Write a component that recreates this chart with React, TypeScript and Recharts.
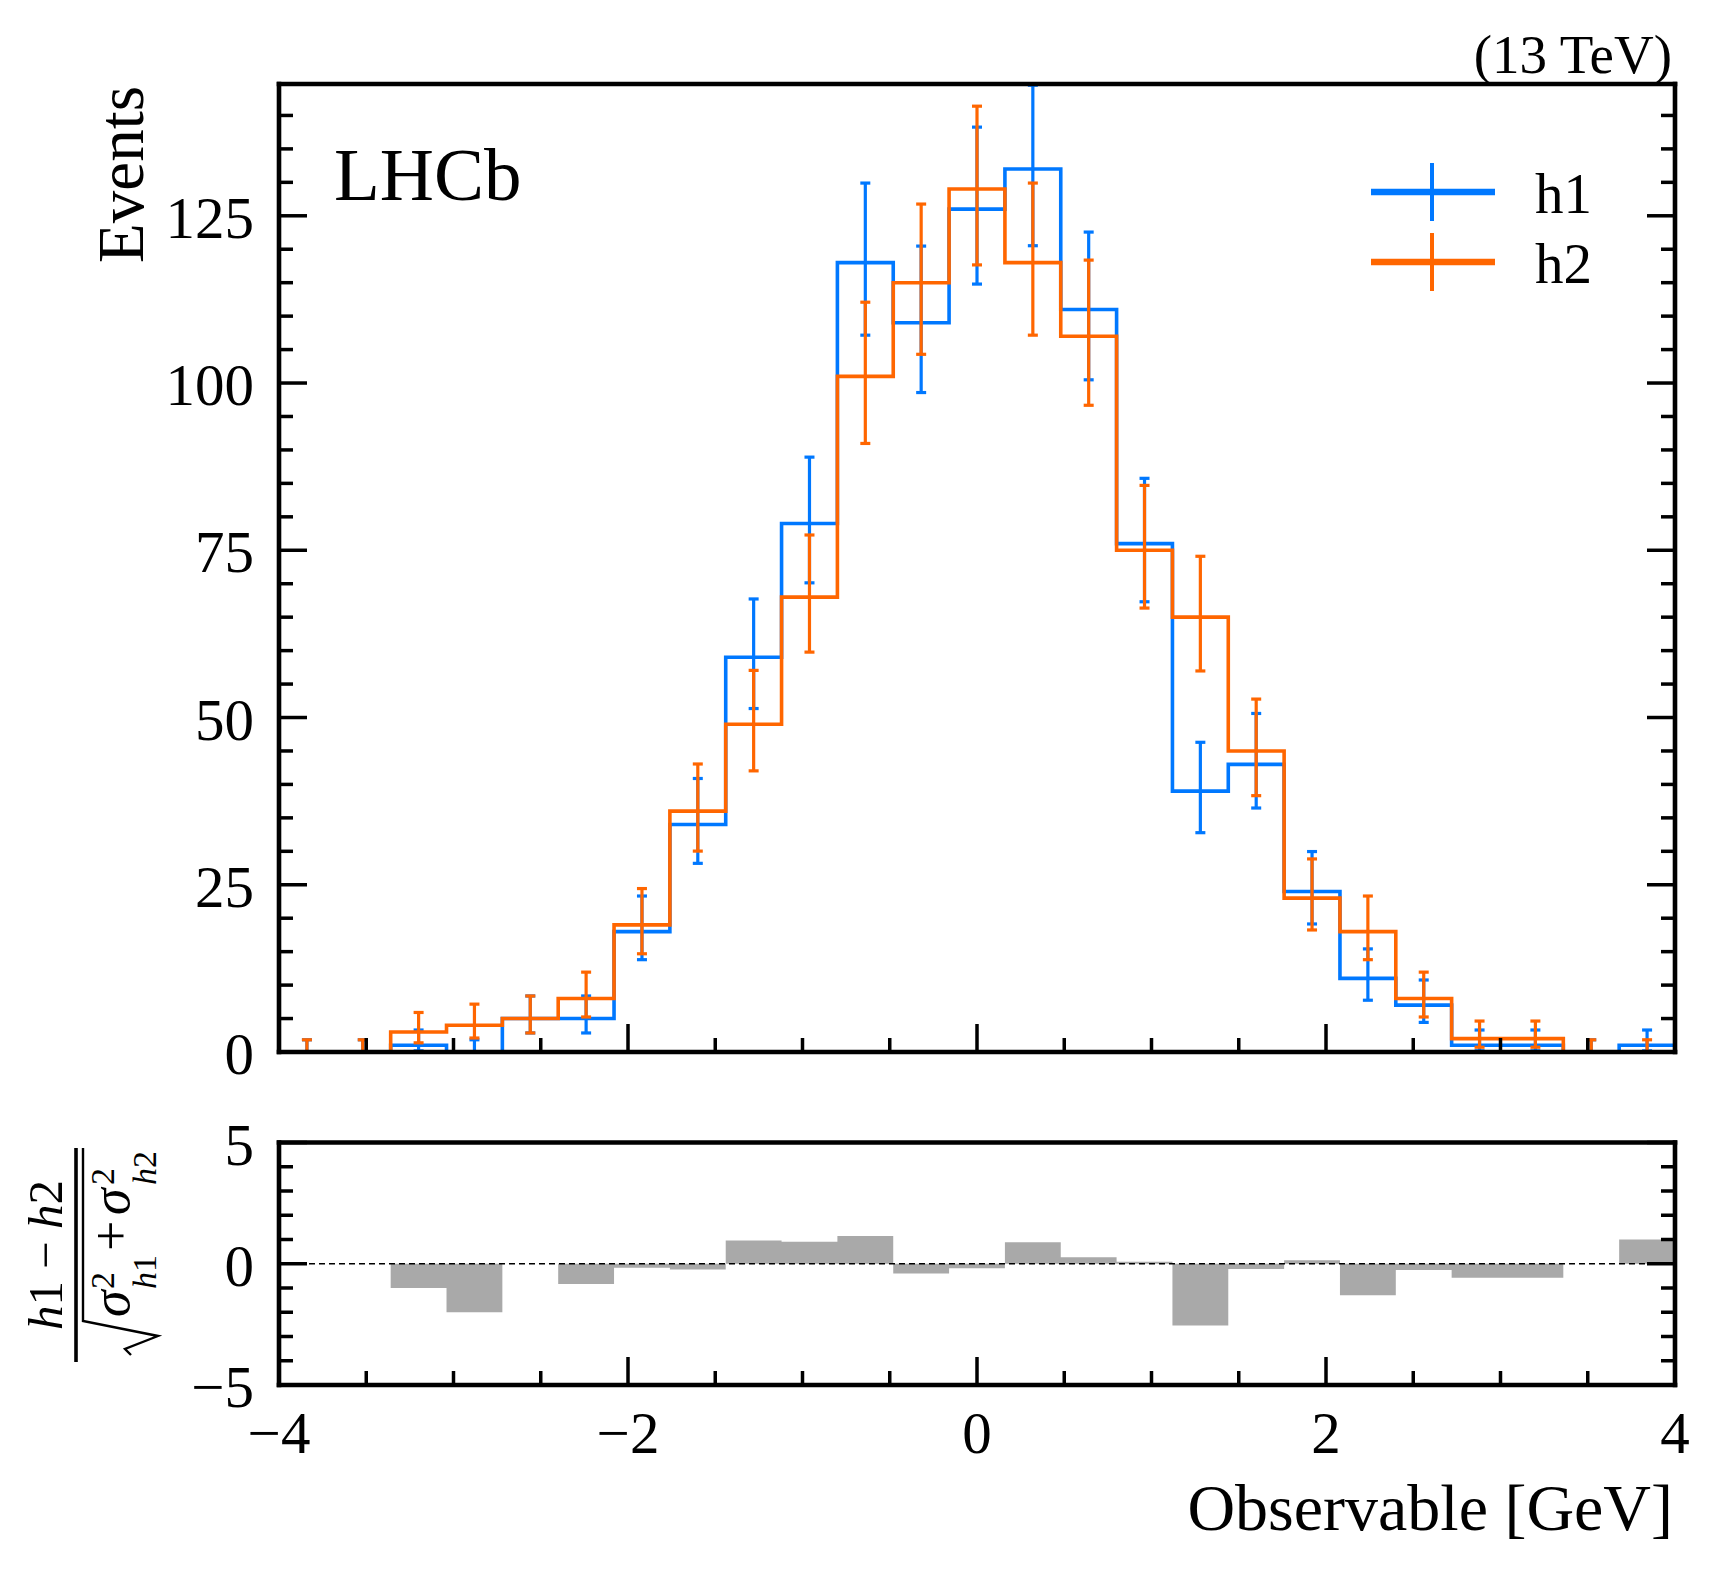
import React from 'react';
import { ComposedChart, Line, Scatter, ErrorBar, XAxis, YAxis, Area, ReferenceLine } from 'recharts';

// ---------- data ----------
const binEdges = [
  -4, -3.68, -3.36, -3.04, -2.72, -2.4, -2.08, -1.76, -1.44, -1.12, -0.8, -0.48, -0.16,
  0.16, 0.48, 0.8, 1.12, 1.44, 1.76, 2.08, 2.4, 2.72, 3.04, 3.36, 3.68, 4,
];
const binCenters = [
  -3.84, -3.52, -3.2, -2.88, -2.56, -2.24, -1.92, -1.6, -1.28, -0.96, -0.64, -0.32, 0,
  0.32, 0.64, 0.96, 1.28, 1.6, 1.92, 2.24, 2.56, 2.88, 3.2, 3.52, 3.84,
];
const h1Counts = [0, 0, 1, 0, 5, 5, 18, 34, 59, 79, 118, 109, 126, 132, 111, 76, 39, 43, 24, 11, 7, 1, 1, 0, 1];
const h2Counts = [0, 0, 3, 4, 5, 8, 19, 36, 49, 68, 101, 115, 129, 118, 107, 75, 65, 45, 23, 18, 8, 2, 2, 0, 0];

const xMajorTicks = [-4, -2, 0, 2, 4];
const xMinorTicks = [-3.5, -3, -2.5, -1.5, -1, -0.5, 0.5, 1, 1.5, 2.5, 3, 3.5];
const yMajorTicks = [0, 25, 50, 75, 100, 125];
const yMinorTicks = [5, 10, 15, 20, 30, 35, 40, 45, 55, 60, 65, 70, 80, 85, 90, 95, 105, 110, 115, 120, 130, 135, 140];
const pullMajorTicks = [-5, 0, 5];
const pullMinorTicks = [-4, -3, -2, -1, 1, 2, 3, 4];

const yDomainMain: [number, number] = [0, 144.7];
const yDomainPull: [number, number] = [-5, 5];
const xDomain: [number, number] = [-4, 4];

// ---------- derived tables ----------
const poissonLow = (n: number) => (n <= 0 ? 0 : n * Math.pow(1 - 1 / (9 * n) - 1 / (3 * Math.sqrt(n)), 3));
const poissonHigh = (n: number) => (n + 1) * Math.pow(1 - 1 / (9 * (n + 1)) + 1 / (3 * Math.sqrt(n + 1)), 3);

const stepTable = (counts: number[]) =>
  binEdges.map((x, i) => ({ x, y: counts[Math.min(i, counts.length - 1)] }));
const errTable = (counts: number[]) =>
  binCenters.map((x, i) => ({ x, y: counts[i], err: [counts[i] - poissonLow(counts[i]), poissonHigh(counts[i]) - counts[i]] }));

const pulls = h1Counts.map((a, i) => {
  const b = h2Counts[i];
  return a + b > 0 ? (a - b) / Math.sqrt(a + b) : 0;
});

const h1Step = stepTable(h1Counts);
const h2Step = stepTable(h2Counts);
const h1Err = errTable(h1Counts);
const h2Err = errTable(h2Counts);
const pullStep = binEdges.map((x, i) => ({ x, y: pulls[Math.min(i, pulls.length - 1)] }));

// ---------- style ----------
const FONT = "'Liberation Serif', 'DejaVu Serif', serif";
const BLUE = '#0078FF';
const ORANGE = '#FF6600';
const GRAY = '#A9A9A9';
const TICK_FS = 59;
const MAJOR_LEN = 28;
const MINOR_LEN = 14;
const TICK_W = 3.5;

const fmt = (v: number) => (v < 0 ? '\u2212' + Math.abs(v) : String(v));

type Side = 'bottom' | 'top' | 'left' | 'right';

function makeTick(side: Side, majors: number[], withLabel: boolean) {
  return (props: any) => {
    const { x, y, payload } = props;
    const v = payload.value as number;
    const isMajor = majors.some((m) => Math.abs(m - v) < 1e-9);
    const len = isMajor ? MAJOR_LEN : MINOR_LEN;
    let line: React.ReactNode = null;
    let label: React.ReactNode = null;
    if (side === 'bottom') {
      line = <line x1={x} y1={y} x2={x} y2={y - len} stroke="#000" strokeWidth={TICK_W} />;
      if (withLabel && isMajor)
        label = (
          <text x={x} y={y + 68} textAnchor="middle" fontSize={TICK_FS} fontFamily={FONT} fill="#000">
            {fmt(v)}
          </text>
        );
    } else if (side === 'top') {
      line = <line x1={x} y1={y} x2={x} y2={y + len} stroke="#000" strokeWidth={TICK_W} />;
    } else if (side === 'left') {
      line = <line x1={x} y1={y} x2={x + len} y2={y} stroke="#000" strokeWidth={TICK_W} />;
      if (withLabel && isMajor)
        label = (
          <text x={x - 25} y={y + 22} textAnchor="end" fontSize={TICK_FS} fontFamily={FONT} fill="#000">
            {fmt(v)}
          </text>
        );
    } else {
      line = <line x1={x} y1={y} x2={x - len} y2={y} stroke="#000" strokeWidth={TICK_W} />;
    }
    return (
      <g>
        {line}
        {label}
      </g>
    );
  };
}

const noShape = () => <g />;
const spine = { stroke: '#000', strokeWidth: 4.6, strokeLinecap: 'square' as const };

function frameAxes(yDomain: [number, number], yMajor: number[], yMinor: number[], xLabels: boolean) {
  const xAll = [...xMajorTicks, ...xMinorTicks].sort((a, b) => a - b);
  const yAll = [...yMajor, ...yMinor].sort((a, b) => a - b);
  return [
    <XAxis key="xb" xAxisId="b" dataKey="x" type="number" orientation="bottom" domain={xDomain} allowDataOverflow
      ticks={xAll} interval={0} height={1} tickSize={0} tickMargin={0} stroke="#000"
      tick={makeTick('bottom', xMajorTicks, xLabels)} axisLine={spine} tickLine={false} />,
    <XAxis key="xt" xAxisId="t" type="number" orientation="top" domain={xDomain} allowDataOverflow
      ticks={xAll} interval={0} height={1} tickSize={0} tickMargin={0} stroke="#000"
      tick={makeTick('top', xMajorTicks, false)} axisLine={spine} tickLine={false} />,
    <YAxis key="yl" yAxisId="l" dataKey="y" type="number" orientation="left" domain={yDomain} allowDataOverflow
      ticks={yAll} interval={0} width={1} tickSize={0} tickMargin={0} stroke="#000"
      tick={makeTick('left', yMajor, true)} axisLine={spine} tickLine={false} />,
    <YAxis key="yr" yAxisId="r" type="number" orientation="right" domain={yDomain} allowDataOverflow
      ticks={yAll} interval={0} width={1} tickSize={0} tickMargin={0} stroke="#000"
      tick={makeTick('right', yMajor, false)} axisLine={spine} tickLine={false} />,
  ];
}

function MainChart() {
  return (
    <ComposedChart width={1719} height={1100} margin={{ top: 83, right: 43, bottom: 47, left: 278 }}>
      <Line data={h1Step} xAxisId="b" yAxisId="l" dataKey="y" type="stepAfter" stroke={BLUE} strokeWidth={3.6}
        dot={false} activeDot={false} isAnimationActive={false} />
      <Scatter data={h1Err} xAxisId="b" yAxisId="l" dataKey="y" shape={noShape} isAnimationActive={false}>
        <ErrorBar dataKey="err" direction="y" width={5} stroke={BLUE} strokeWidth={3.2} />
      </Scatter>
      <Line data={h2Step} xAxisId="b" yAxisId="l" dataKey="y" type="stepAfter" stroke={ORANGE} strokeWidth={3.6}
        dot={false} activeDot={false} isAnimationActive={false} />
      <Scatter data={h2Err} xAxisId="b" yAxisId="l" dataKey="y" shape={noShape} isAnimationActive={false}>
        <ErrorBar dataKey="err" direction="y" width={5} stroke={ORANGE} strokeWidth={3.2} />
      </Scatter>
      {frameAxes(yDomainMain, yMajorTicks, yMinorTicks, false)}
    </ComposedChart>
  );
}

function PullChart() {
  return (
    <ComposedChart width={1719} height={473} margin={{ top: 41.5, right: 43, bottom: 187, left: 278 }}>
      <Area data={pullStep} xAxisId="b" yAxisId="l" dataKey="y" type="stepAfter" baseValue={0}
        fill={GRAY} fillOpacity={1} stroke="none" dot={false} activeDot={false} isAnimationActive={false} />
      <ReferenceLine xAxisId="b" yAxisId="l" y={0} stroke="#000" strokeWidth={1.7} strokeDasharray="6 4" />
      {frameAxes(yDomainPull, pullMajorTicks, pullMinorTicks, true)}
    </ComposedChart>
  );
}

function Overlay() {
  return (
    <svg width={1719} height={1573} style={{ position: 'absolute', left: 0, top: 0, pointerEvents: 'none' }}
      fontFamily={FONT}>
      <text x={1672} y={73} textAnchor="end" fontSize={55} fill="#000">(13 TeV)</text>
      <text x={334} y={200} fontSize={75} fill="#000">LHCb</text>
      <text transform="translate(143,86) rotate(-90)" textAnchor="end" fontSize={65} fill="#000">Events</text>
      <text x={1673} y={1530} textAnchor="end" fontSize={66} fill="#000">Observable [GeV]</text>

      {/* legend */}
      <line x1={1371} y1={192} x2={1495} y2={192} stroke={BLUE} strokeWidth={6.5} />
      <line x1={1432} y1={163} x2={1432} y2={221} stroke={BLUE} strokeWidth={4} />
      <text x={1535} y={213} fontSize={57} fill="#000">h1</text>
      <line x1={1371} y1={262} x2={1495} y2={262} stroke={ORANGE} strokeWidth={6.5} />
      <line x1={1432} y1={233} x2={1432} y2={291} stroke={ORANGE} strokeWidth={4} />
      <text x={1535} y={283} fontSize={57} fill="#000">h2</text>

      {/* pull axis label */}
      <g transform="translate(76,1255) rotate(-90)" fill="#000">
        <text x={0} y={-14} textAnchor="middle" fontSize={49}>
          <tspan fontStyle="italic">h</tspan>1 − <tspan fontStyle="italic">h</tspan>2
        </text>
        <line x1={-107} y1={0} x2={107} y2={0} stroke="#000" strokeWidth={3.6} />
        <path d="M -100 55 L -94 49 L -81 82 L -66 7 L 107 7" fill="none" stroke="#000" strokeWidth={2.4} />
        <text x={-62} y={53} fontSize={54} fontStyle="italic">σ</text>
        <text x={-34} y={38} fontSize={34}>2</text>
        <text x={-34} y={80} fontSize={34}><tspan fontStyle="italic">h</tspan>1</text>
        <text x={4} y={53} fontSize={54}>+</text>
        <text x={40} y={53} fontSize={54} fontStyle="italic">σ</text>
        <text x={70} y={38} fontSize={34}>2</text>
        <text x={70} y={80} fontSize={34}><tspan fontStyle="italic">h</tspan>2</text>
      </g>
    </svg>
  );
}

export default function App() {
  return (
    <div style={{ position: 'relative', width: 1719, height: 1573, background: '#fff' }}>
      <style>{'body{margin:0;}'}</style>
      <div style={{ position: 'absolute', left: 0, top: 0 }}>
        <MainChart />
      </div>
      <div style={{ position: 'absolute', left: 0, top: 1100 }}>
        <PullChart />
      </div>
      <Overlay />
    </div>
  );
}
